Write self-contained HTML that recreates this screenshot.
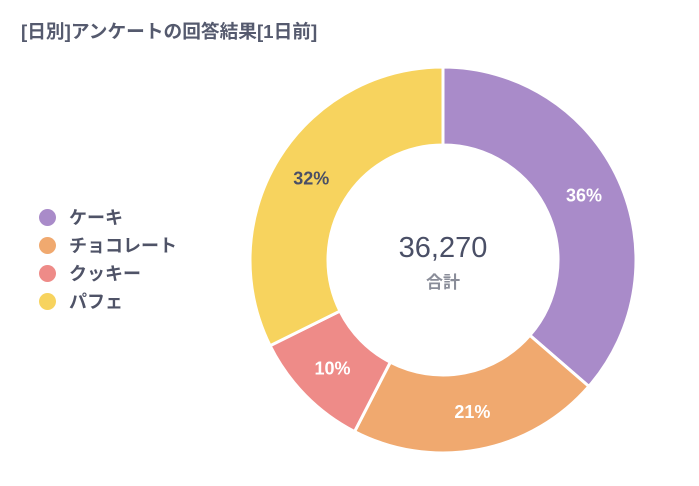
<!DOCTYPE html>
<html><head><meta charset="utf-8"><style>
body{margin:0;background:#fff;width:699px;height:486px;overflow:hidden;font-family:"Liberation Sans","Noto Sans CJK JP",sans-serif}
.title{position:absolute;left:21px;top:17px;font-size:18.7px;font-weight:bold;color:#555a6e}
.leg{position:absolute;left:39px;height:28px;display:flex;align-items:center;font-size:18px;font-weight:bold;color:#4f5367}
.dot{width:17px;height:17px;border-radius:50%;margin-right:13px}
</style></head><body>
<div class="title">[日別]アンケートの回答結果[1日前]</div>
<div id="legend"></div>
<svg id="chart" width="699" height="486" style="position:absolute;left:0;top:0"></svg>
<script>
const categories=["ケーキ","チョコレート","クッキー","パフェ"];
const values=[36,21,10,32];
const labels=["36%","21%","10%","32%"];
const colors=["#a98bc9","#f0a96f","#ee8b88","#f7d35e"];
const labelColors=["#fff","#fff","#fff","#4a4f66"];
const cx=443,cy=260,R=193,ri=115,lr=155;
const svg=document.getElementById('chart');
const NS="http://www.w3.org/2000/svg";
const total=values.reduce((a,b)=>a+b,0);
function pt(a,r){return [cx+r*Math.sin(a),cy-r*Math.cos(a)];}
let a0=0;
values.forEach((v,i)=>{
  const a1=a0+v/total*2*Math.PI;
  const [x0,y0]=pt(a0,R),[x1,y1]=pt(a1,R),[x2,y2]=pt(a1,ri),[x3,y3]=pt(a0,ri);
  const lg=(a1-a0)>Math.PI?1:0;
  const p=document.createElementNS(NS,'path');
  p.setAttribute('d',`M${x0},${y0}A${R},${R} 0 ${lg} 1 ${x1},${y1}L${x2},${y2}A${ri},${ri} 0 ${lg} 0 ${x3},${y3}Z`);
  p.setAttribute('fill',colors[i]);p.setAttribute('stroke','#fff');p.setAttribute('stroke-width','3');
  
  
  svg.appendChild(p);
  const [lx,ly]=pt((a0+a1)/2,lr);
  const t=document.createElementNS(NS,'text');
  t.setAttribute('x',lx);t.setAttribute('y',ly+6);t.setAttribute('text-anchor','middle');
  t.setAttribute('font-size','18');t.setAttribute('font-weight','bold');t.setAttribute('fill',labelColors[i]);
  t.textContent=labels[i];
  
  
  svg.appendChild(t);
  a0=a1;
});
const c1=document.createElementNS(NS,'text');
c1.setAttribute('x',cx);c1.setAttribute('y',cy-3);c1.setAttribute('text-anchor','middle');
c1.setAttribute('font-size','29');c1.setAttribute('fill','#4a4f66');c1.textContent='36,270';


svg.appendChild(c1);
const c2=document.createElementNS(NS,'text');
c2.setAttribute('x',cx);c2.setAttribute('y',cy+28);c2.setAttribute('text-anchor','middle');
c2.setAttribute('font-size','17');c2.setAttribute('font-weight','bold');c2.setAttribute('fill','#8a8d99');c2.textContent='合計';


svg.appendChild(c2);
const leg=document.getElementById('legend');
categories.forEach((c,i)=>{
  const d=document.createElement('div');d.className='leg';d.style.top=(203+i*28)+'px';
  d.innerHTML=`<span class="dot" style="background:${colors[i]}"></span>${c}`;
  
  
  leg.appendChild(d);
});
</script>
</body></html>
